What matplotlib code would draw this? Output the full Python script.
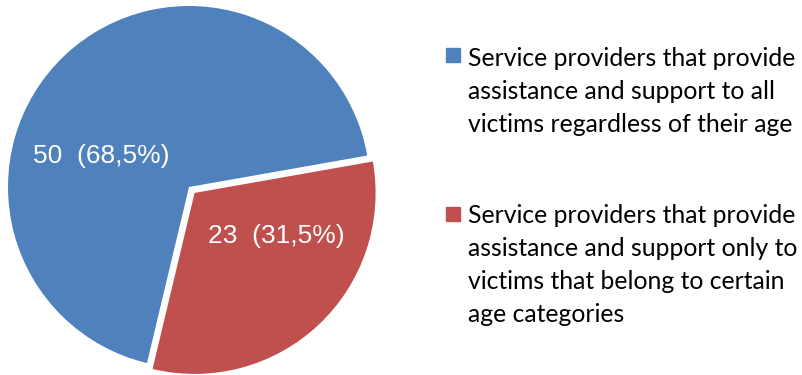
import matplotlib.pyplot as plt
from matplotlib.patches import Rectangle

# provider counts by age scope
labels = [
    "Service providers that provide\nassistance and support to all\nvictims regardless of their age",
    "Service providers that provide\nassistance and support only to\nvictims that belong to certain\nage categories",
]
counts = [50, 23]
shares = ["68,5%", "31,5%"]
colors = ["#4F81BD", "#C0504D"]

W, H = 802, 375
fig = plt.figure(figsize=(W / 100, H / 100), dpi=100)

# pie axes placed in pixel terms: centre (189, 187 from top), radius ~181 px
cx, cy, r = 189, H - 187, 181
lim = 1.1
half = r * lim
ax = fig.add_axes([(cx - half) / W, (cy - half) / H, 2 * half / W, 2 * half / H])
wedges, _ = ax.pie(counts, colors=colors, startangle=10, explode=[0, 0.045],
                   radius=1.0, wedgeprops=dict(linewidth=0))
ax.set_xlim(-lim, lim)
ax.set_ylim(-lim, lim)
ax.set_aspect("equal")
ax.axis("off")

# value labels inside the slices
label_pos = [(-0.487, 0.17), (0.48, -0.27)]
for (x, y), n, s in zip(label_pos, counts, shares):
    ax.text(x, y, f"{n}  ({s})", color="white", fontsize=19,
            family="Liberation Sans", ha="center", va="center")

# legend drawn as squares + wrapped text
square_top = [48, 207]   # px from top
last_base = [132, 322]   # baseline of the last text line, px from top
for sq, base, lab, col in zip(square_top, last_base, labels, colors):
    fig.patches.append(Rectangle((446 / W, (H - sq - 14) / H), 14 / W, 14 / H,
                                 transform=fig.transFigure, color=col))
    fig.text(468 / W, (H - base) / H, lab, fontsize=17.8, family="Lato",
             ha="left", va="baseline", linespacing=1.53, color="black")

fig.savefig("out.png", dpi=100)
